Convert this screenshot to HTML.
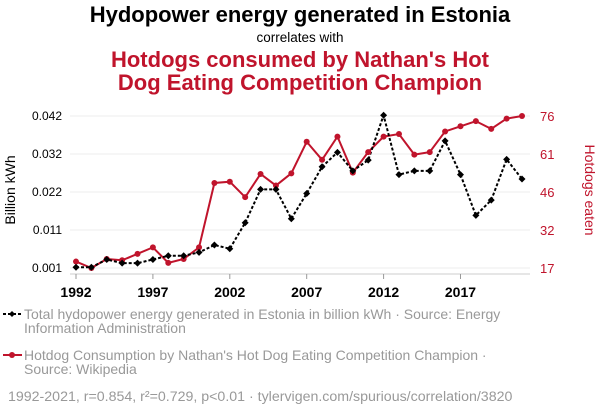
<!DOCTYPE html>
<html><head><meta charset="utf-8"><style>
body{margin:0;background:#fff;width:600px;height:414px;overflow:hidden;font-family:"Liberation Sans",sans-serif}
</style></head><body>
<svg width="600" height="414" style="font-family:'Liberation Sans',sans-serif">
<text x="300" y="22" text-anchor="middle" font-size="22" font-weight="bold" fill="#000">Hydopower energy generated in Estonia</text>
<text x="300" y="42" text-anchor="middle" font-size="13.5" fill="#000">correlates with</text>
<text x="300" y="67" text-anchor="middle" font-size="22" font-weight="bold" fill="#c0142c">Hotdogs consumed by Nathan's Hot</text>
<text x="300" y="90" text-anchor="middle" font-size="22" font-weight="bold" fill="#c0142c">Dog Eating Competition Champion</text>
<g id="grid"></g>
<line x1="70" y1="274" x2="530" y2="274" stroke="#ccc"/>
<g id="xt"></g><g id="lt"></g><g id="rt"></g>
<text transform="translate(15,190) rotate(-90)" text-anchor="middle" font-size="14" fill="#000">Billion kWh</text>
<text transform="translate(585,190) rotate(90)" text-anchor="middle" font-size="14" fill="#c0142c">Hotdogs eaten</text>
<g id="series"></g>
<g>
<line x1="3" y1="314" x2="22" y2="314" stroke="#000" stroke-width="2" stroke-dasharray="3,2"/>
<path d="M9 314 l3 -3 l3 3 l-3 3z" fill="#000"/>
<text x="24" y="319" font-size="14" fill="#999">Total hydopower energy generated in Estonia in billion kWh · Source: Energy</text>
<text x="24" y="333" font-size="14" fill="#999">Information Administration</text>
</g>
<g>
<line x1="3" y1="355" x2="22" y2="355" stroke="#c0142c" stroke-width="2"/>
<circle cx="12" cy="355" r="3" fill="#c0142c"/>
<text x="24" y="360" font-size="14" fill="#999">Hotdog Consumption by Nathan's Hot Dog Eating Competition Champion ·</text>
<text x="24" y="374" font-size="14" fill="#999">Source: Wikipedia</text>
</g>
<text x="8" y="401" font-size="14.2" fill="#999">1992-2021, r=0.854, r²=0.729, p&lt;0.01 · tylervigen.com/spurious/correlation/3820</text>
</svg>
<script>
const years=[1992,1993,1994,1995,1996,1997,1998,1999,2000,2001,2002,2003,2004,2005,2006,2007,2008,2009,2010,2011,2012,2013,2014,2015,2016,2017,2018,2019,2020,2021];
const hydro=[0.0012,0.0012,0.0033,0.0023,0.0023,0.0033,0.0043,0.0043,0.0052,0.0072,0.0062,0.0132,0.0222,0.0222,0.0143,0.0211,0.0283,0.0322,0.0272,0.0301,0.0422,0.0262,0.0272,0.0272,0.0353,0.0262,0.0152,0.0193,0.0303,0.0250];
const hotdogs=[19.5,17,20.5,20,22.5,25,19,20.5,25,50,50.5,44.5,53.5,49,53.75,66,59,68,54,62,68,69,61,62,70,72,74,71,75,76];
const xTicks=[1992,1997,2002,2007,2012,2017];
const leftTicks=["0.001","0.011","0.022","0.032","0.042"];
const rightTicks=["17","32","46","61","76"];
const NS="http://www.w3.org/2000/svg";
const x=y=>76+(y-1992)*(522-76)/29;
const yl=v=>268-(v-0.001)/0.041*152;
const yr=v=>268-(v-17)/59*152;
function mk(tag,attrs,parent){const e=document.createElementNS(NS,tag);for(const k in attrs)e.setAttribute(k,attrs[k]);document.getElementById(parent).appendChild(e);return e;}
leftTicks.forEach((t,i)=>{const py=268-i*38;
const g=mk('line',{x1:70,x2:530,y1:py,y2:py,stroke:'#eee'},'grid');


const l=mk('text',{x:62,y:py+4,'text-anchor':'end','font-size':12,fill:'#000'},'lt');l.textContent=t;


const r=mk('text',{x:540,y:py+5,'font-size':13,fill:'#c0142c'},'rt');r.textContent=rightTicks[i];


});
xTicks.forEach(t=>{
mk('line',{x1:x(t),x2:x(t),y1:274,y2:279,stroke:'#999'},'xt');
const e=mk('text',{x:x(t),y:297,'text-anchor':'middle','font-size':14,'font-weight':'bold',fill:'#000'},'xt');e.textContent=t;


});
const rp=mk('polyline',{points:years.map((y,i)=>x(y)+','+yr(hotdogs[i])).join(' '),fill:'none',stroke:'#c0142c','stroke-width':2},'series');


const bp=mk('polyline',{points:years.map((y,i)=>x(y)+','+yl(hydro[i])).join(' '),fill:'none',stroke:'#000','stroke-width':2,'stroke-dasharray':'3,2'},'series');


years.forEach((y,i)=>{
const c=mk('circle',{cx:x(y),cy:yr(hotdogs[i]),r:3,fill:'#c0142c'},'series');


const px=x(y),py=yl(hydro[i]);
const d=mk('path',{d:`M${px-3.5} ${py} L${px} ${py-3.5} L${px+3.5} ${py} L${px} ${py+3.5}Z`,fill:'#000'},'series');


});
</script>
</body></html>
